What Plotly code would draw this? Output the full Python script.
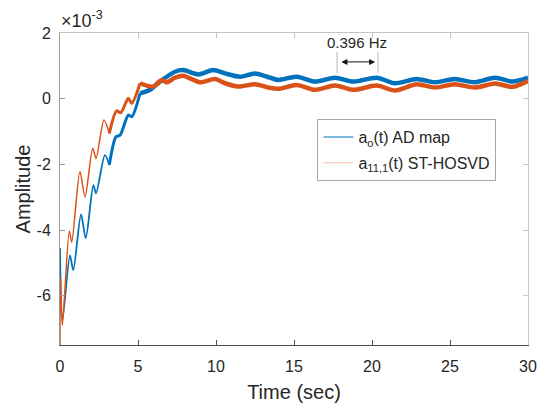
import plotly.graph_objects as go

# ---- data (amplitude in units of 1e-3) ----
time_ad = [0, 0.15, 0.64, 0.85, 1.35, 1.65, 2.14, 2.31, 2.88, 3.16, 3.59, 3.85, 4.38, 4.6,
           5.13, 5.77, 6.41, 7.37, 7.9, 8.87, 9.83, 10.58, 11.54, 12.5, 13.46, 14.0, 15.17,
           16.35, 17.63, 18.8, 20.3, 21.47, 22.86, 24.04, 25.3, 26.6, 27.9, 29.0, 30]
amp_ad = [-4.55, -6.75, -4.77, -5.22, -3.52, -4.25, -2.63, -2.88, -1.72, -2.02, -1.16, -1.11,
          -0.5, -0.55, 0.16, 0.27, 0.52, 0.82, 0.87, 0.74, 0.87, 0.77, 0.67, 0.77, 0.64, 0.57,
          0.67, 0.52, 0.64, 0.52, 0.64, 0.47, 0.6, 0.5, 0.6, 0.5, 0.64, 0.52, 0.64]

time_st = [0, 0.03, 0.15, 0.6, 0.75, 1.28, 1.6, 2.1, 2.31, 2.82, 3.16, 3.63, 3.89, 4.38, 4.6,
           5.13, 5.98, 6.52, 6.84, 7.37, 7.9, 8.97, 9.94, 10.58, 11.43, 12.5, 13.35, 14.0,
           15.17, 16.35, 17.63, 18.8, 20.3, 21.47, 22.86, 24.04, 25.3, 26.6, 27.9, 29.0, 30]
amp_st = [-7.6, -5.44, -6.9, -4.03, -4.37, -2.22, -2.99, -1.51, -1.82, -0.65, -1.06, -0.37,
          -0.43, 0.01, -0.14, 0.47, 0.37, 0.57, 0.5, 0.64, 0.70, 0.5, 0.6, 0.47, 0.37, 0.44,
          0.34, 0.3, 0.42, 0.27, 0.4, 0.27, 0.4, 0.25, 0.44, 0.34, 0.44, 0.34, 0.46, 0.36, 0.54]

x_ticks = [0, 5, 10, 15, 20, 25, 30]
y_ticks = [2, 0, -2, -4, -6]
y_ticklabels = ["2", "0", "-2", "-4", "-6"]

name_ad = "a<sub>o</sub>(t) AD map"
name_st = "a<sub>11,1</sub>(t) ST-HOSVD"
freq_label = "0.396 Hz"
freq_marks = [17.76, 20.38]

BLUE = "#0072BD"
ORANGE = "#D95319"
FONT = "Liberation Sans, Arial, sans-serif"
TXT = "#262626"

fig = go.Figure()


def add_segments(t, v, color, breaks, widths):
    # breaks: time values where line width changes
    edges = [t[0]] + breaks + [t[-1]]
    for k in range(len(widths)):
        lo, hi = edges[k], edges[k + 1]
        xs = [a for a in t if lo <= a <= hi]
        ys = [b for a, b in zip(t, v) if lo <= a <= hi]
        fig.add_trace(go.Scatter(x=xs, y=ys, mode="lines", showlegend=False,
                                 line=dict(color=color, width=widths[k], shape="spline",
                                           smoothing=0.8),
                                 hoverinfo="skip"))


add_segments(time_ad, amp_ad, BLUE, [3.16, 5.13], [1.8, 3.0, 4.5])
add_segments(time_st, amp_st, ORANGE, [3.16, 5.13], [1.5, 3.0, 4.5])

# legend-only entries
fig.add_trace(go.Scatter(x=[None], y=[None], mode="lines", name=name_ad,
                         line=dict(color=BLUE, width=1.2), legendgroup="a"))
fig.add_trace(go.Scatter(x=[None], y=[None], mode="lines", name=name_st,
                         line=dict(color="#F3C2AC", width=1.0), legendgroup="b"))

# frequency marker lines
for xm in freq_marks:
    fig.add_shape(type="line", xref="x", yref="y", x0=xm, x1=xm, y0=0.78, y1=1.43,
                  line=dict(color="#B8B8B8", width=1))
fig.add_annotation(x=freq_marks[1] - 0.18, y=1.12, ax=freq_marks[0] + 0.18, ay=1.12,
                   xref="x", yref="y", axref="x", ayref="y", text="", showarrow=True,
                   arrowhead=2, startarrowhead=2, arrowside="end+start", arrowsize=1.2,
                   arrowwidth=1, arrowcolor="#111111")
fig.add_annotation(x=sum(freq_marks) / 2, y=1.72, xref="x", yref="y", text=freq_label,
                   showarrow=False, font=dict(family=FONT, size=15, color=TXT))

# exponent label
fig.add_annotation(x=0, y=1, xref="paper", yref="paper", xanchor="left", yanchor="bottom",
                   yshift=0, xshift=-1, text="×10<sup>-3</sup>", showarrow=False,
                   font=dict(family=FONT, size=18, color=TXT))

axis_common = dict(ticks="inside", ticklen=5, tickwidth=1, showgrid=False, zeroline=False,
                   showline=True, linewidth=1, automargin=False)

fig.update_layout(
    width=548, height=404,
    margin=dict(l=60, r=20, t=33, b=59),
    paper_bgcolor="white", plot_bgcolor="white",
    font=dict(family=FONT, color=TXT),
    xaxis=dict(range=[0, 30], tickvals=x_ticks, linecolor="#505050", tickcolor="#505050",
               tickfont=dict(size=16, color=TXT), ticklabelstandoff=7,
               title=dict(text="Time (sec)", font=dict(size=20, color=TXT), standoff=10),
               **axis_common),
    yaxis=dict(range=[-7.5, 2], tickvals=y_ticks, ticktext=y_ticklabels, linecolor="#9A9A9A",
               tickcolor="#9A9A9A", tickfont=dict(size=16, color=TXT), ticklabelstandoff=5,
               title=dict(text="Amplitude", font=dict(size=20, color=TXT), standoff=0),
               **axis_common),
    xaxis2=dict(overlaying="x", side="top", matches="x", range=[0, 30], tickvals=x_ticks,
                showticklabels=False, linecolor="#C4C4C4", tickcolor="#C4C4C4", **axis_common),
    yaxis2=dict(overlaying="y", side="right", matches="y", range=[-7.5, 2], tickvals=y_ticks,
                showticklabels=False, linecolor="#C8C8C8", tickcolor="#C8C8C8", **axis_common),
    showlegend=True,
    legend=dict(x=0.55, y=0.724, xanchor="left", yanchor="top", bgcolor="white",
                bordercolor="#A8A8A8", borderwidth=1, font=dict(size=16, color=TXT),
                itemwidth=30, tracegroupgap=2, traceorder="grouped"),
)

# dummy traces to activate the mirrored axes
fig.add_trace(go.Scatter(x=[None], y=[None], xaxis="x2", yaxis="y2", showlegend=False,
                         hoverinfo="skip"))

fig.write_html("out.html")
